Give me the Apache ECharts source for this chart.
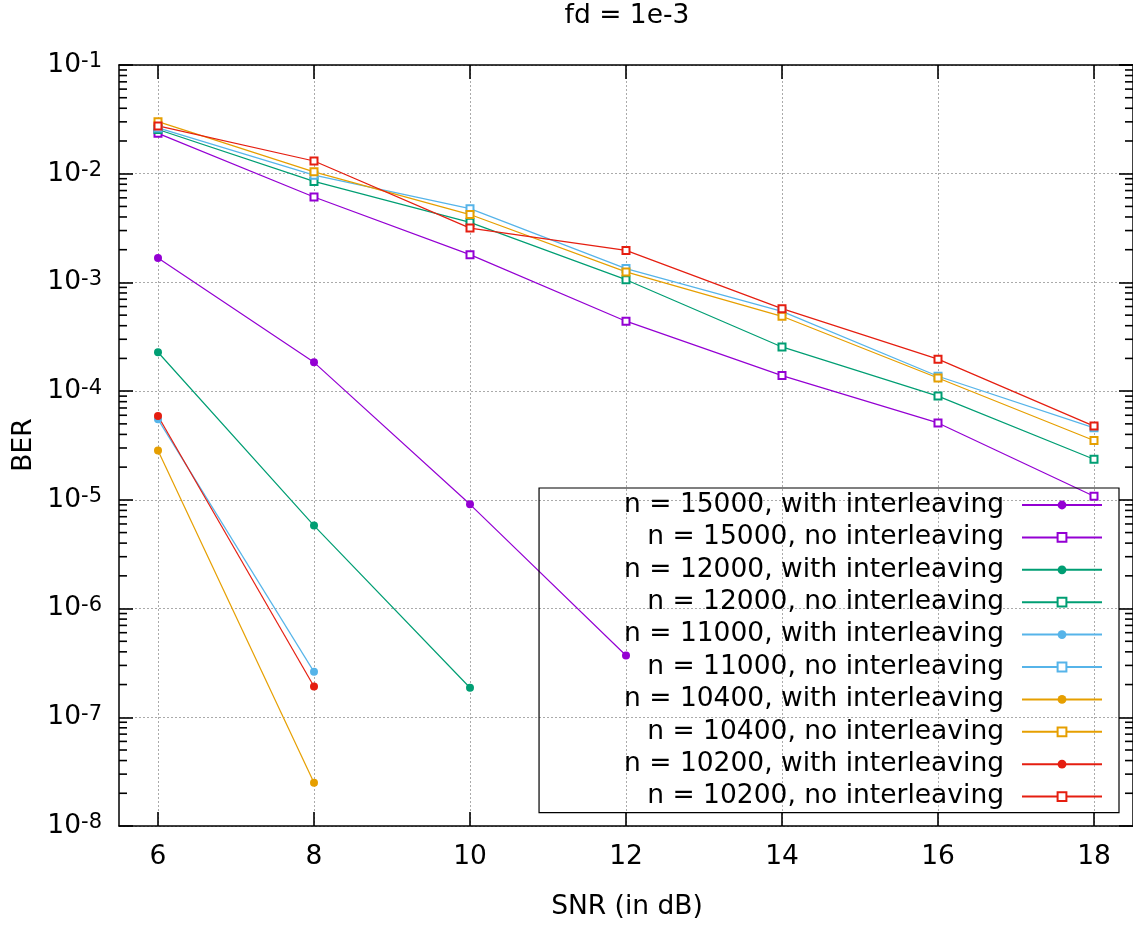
<!DOCTYPE html>
<html><head><meta charset="utf-8">
<script src="https://cdn.jsdelivr.net/npm/echarts@6/dist/echarts.min.js"></script>
<style>html,body{margin:0;padding:0;background:#fff}#c{width:1133px;height:926px}</style>
</head><body><div id="c"></div>
<script>
// ---- data ----
const snr = [6, 8, 10, 12, 14, 16, 18];
const xTickValues = [6, 8, 10, 12, 14, 16, 18];
const minorMultipliers = [2, 3, 4, 5, 6, 7, 8, 9];
const decadeExponents = [-8, -7, -6, -5, -4, -3, -2];
const seriesNames = [
  'n = 15000, with interleaving', 'n = 15000, no interleaving',
  'n = 12000, with interleaving', 'n = 12000, no interleaving',
  'n = 11000, with interleaving', 'n = 11000, no interleaving',
  'n = 10400, with interleaving', 'n = 10400, no interleaving',
  'n = 10200, with interleaving', 'n = 10200, no interleaving'
];
const n15000With = [1.68e-3, 1.84e-4, 9.1e-6, 3.7e-7];
const n15000No   = [2.35e-2, 6.1e-3, 1.8e-3, 4.4e-4, 1.39e-4, 5.1e-5, 1.08e-5];
const n12000With = [2.28e-4, 5.8e-6, 1.87e-7];
const n12000No   = [2.55e-2, 8.5e-3, 3.57e-3, 1.06e-3, 2.55e-4, 9.0e-5, 2.36e-5];
const n11000With = [5.5e-5, 2.62e-7];
const n11000No   = [2.64e-2, 9.7e-3, 4.77e-3, 1.34e-3, 5.42e-4, 1.37e-4, 4.6e-5];
const n10400With = [2.85e-5, 2.5e-8];
const n10400No   = [3.01e-2, 1.04e-2, 4.21e-3, 1.25e-3, 4.88e-4, 1.32e-4, 3.52e-5];
const n10200With = [5.9e-5, 1.92e-7];
const n10200No   = [2.75e-2, 1.31e-2, 3.16e-3, 1.97e-3, 5.74e-4, 1.97e-4, 4.77e-5];
const colors = ['#9400d3', '#009e73', '#56b4e9', '#e69f00', '#e51e10'];

// ---- styling ----
const FONT = 'DejaVu Sans';
const FS = 26.5;
const X_MIN = 5.5, X_MAX = 18.5;
const allData = [n15000With, n15000No, n12000With, n12000No, n11000With, n11000No,
                 n10400With, n10400No, n10200With, n10200No];

// minor tick values (2..9 × 10^k) for the log axis
const minorTickValues = [];
decadeExponents.forEach(k => minorMultipliers.forEach(m => minorTickValues.push(m * Math.pow(10, k))));

const series = allData.map((arr, i) => {
  const filled = i % 2 === 0;
  const c = colors[Math.floor(i / 2)];
  return {
    type: 'line', name: seriesNames[i], xAxisIndex: 0, yAxisIndex: 0,
    data: arr.map((v, j) => [snr[j], v]),
    symbol: filled ? 'circle' : 'emptyRect',
    symbolSize: filled ? 8 : 7,
    showAllSymbol: true,
    lineStyle: { width: 1.2, color: c },
    itemStyle: { color: c, borderColor: c, borderWidth: filled ? 0 : 1 },
    emphasis: { disabled: true },
    animation: false, z: 3
  };
});

// minor ticks on left and right border, drawn through the log axis scale
series.push({
  type: 'custom', xAxisIndex: 0, yAxisIndex: 0,
  data: minorTickValues.map(v => [X_MIN, v]),
  clip: false, animation: false, z: 10,
  renderItem: (params, api) => {
    const v = api.value(1);
    const pL = api.coord([X_MIN, v]);
    const pR = api.coord([X_MAX, v]);
    return {
      type: 'group',
      children: [
        { type: 'line', shape: { x1: pL[0], y1: pL[1], x2: pL[0] + 8, y2: pL[1] }, style: { stroke: '#000', lineWidth: 1.6 } },
        { type: 'line', shape: { x1: pR[0] - 8, y1: pR[1], x2: pR[0], y2: pR[1] }, style: { stroke: '#000', lineWidth: 1.6 } }
      ]
    };
  }
});

const gridLine = { show: true, lineStyle: { color: '#aaaaaa', width: 1, type: [2, 2] } };
const noLabel = { show: false };
const axLine = { show: true, onZero: false, lineStyle: { color: '#000', width: 1.5 } };
const majorTick = { show: true, inside: true, length: 14, lineStyle: { color: '#000', width: 1.6 } };

const option = {
  backgroundColor: '#fff',
  animation: false,
  grid: { left: 119, top: 65, width: 1017, height: 761, containLabel: false },
  xAxis: [
    {
      type: 'value', min: X_MIN, max: X_MAX, position: 'bottom',
      axisLine: axLine,
      axisTick: Object.assign({ customValues: xTickValues }, majorTick),
      axisLabel: { show: true, customValues: xTickValues, margin: 18, fontFamily: FONT, fontSize: FS, color: '#000' },
      splitLine: gridLine
    },
    {
      type: 'value', min: X_MIN, max: X_MAX, position: 'top',
      axisLine: axLine,
      axisTick: Object.assign({ customValues: xTickValues }, majorTick),
      axisLabel: noLabel, splitLine: { show: false }
    }
  ],
  yAxis: [
    {
      type: 'log', logBase: 10, min: 1e-8, max: 1e-1, interval: 1, position: 'left',
      axisLine: axLine,
      axisTick: majorTick,
      axisLabel: {
        show: true, margin: 17,
        formatter: v => '{a|10}{b|' + Math.round(Math.log10(v)) + '}',
        rich: {
          a: { fontFamily: FONT, fontSize: FS, color: '#000' },
          b: { fontFamily: FONT, fontSize: 21, color: '#000', verticalAlign: 'top' }
        }
      },
      splitLine: gridLine, minorTick: { show: false }
    },
    {
      type: 'log', logBase: 10, min: 1e-8, max: 1e-1, interval: 1, position: 'right',
      axisLine: axLine,
      axisTick: majorTick,
      axisLabel: noLabel, splitLine: { show: false }
    }
  ],
  legend: {
    data: seriesNames,
    orient: 'vertical', align: 'right',
    right: 14, top: 488,
    padding: [1, 16, 0, 85],
    itemWidth: 80, itemHeight: 11, itemGap: 0.4,
    borderColor: '#000', borderWidth: 1.2,
    selectedMode: false,
    textStyle: { fontFamily: FONT, fontSize: FS, color: '#000', lineHeight: 32, padding: [0, 13, 0, 0] }
  },
  graphic: [
    { type: 'text', x: 627, y: 16, style: { text: 'fd = 1e-3', font: FS + 'px "' + FONT + '"', fill: '#000', align: 'center', verticalAlign: 'middle' } },
    { type: 'text', x: 627, y: 907, style: { text: 'SNR (in dB)', font: FS + 'px "' + FONT + '"', fill: '#000', align: 'center', verticalAlign: 'middle' } },
    { type: 'text', x: 24, y: 445, rotation: Math.PI / 2, style: { text: 'BER', font: FS + 'px "' + FONT + '"', fill: '#000', align: 'center', verticalAlign: 'middle' } }
  ],
  series: series
};

const chart = echarts.init(document.getElementById('c'), null, { renderer: 'canvas' });
chart.setOption(option);
</script>
</body></html>
